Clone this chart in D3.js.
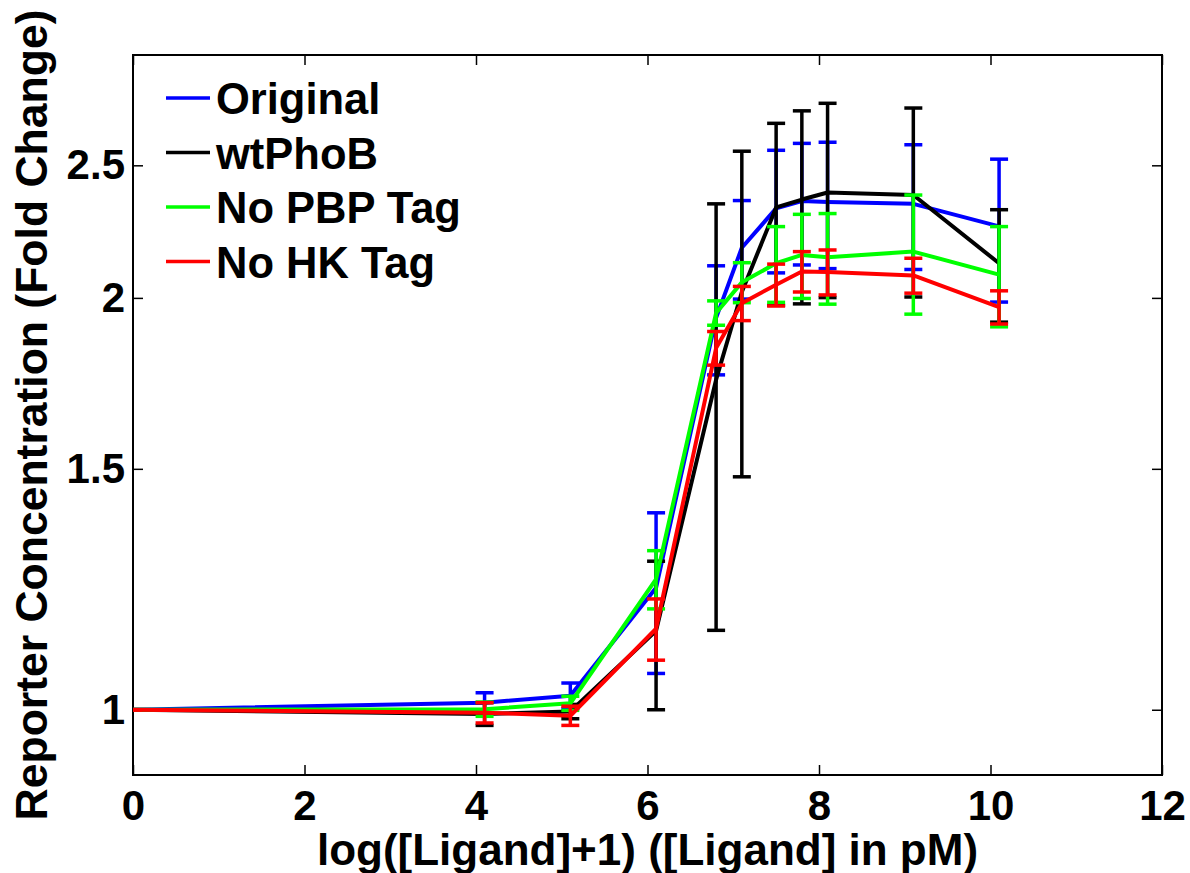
<!DOCTYPE html>
<html>
<head>
<meta charset="utf-8">
<script src="https://cdn.jsdelivr.net/npm/d3@7"></script>
<style>
  body { margin: 0; background: #fff; }
  text { font-family: "Liberation Sans", Arial, sans-serif; font-weight: bold; }
</style>
</head>
<body>
<div id="chart"></div>
<script>
let width = 1190, height = 873;
let margin = {left: 133, right: 28, top: 55, bottom: 98};

// x positions: log([Ligand]+1)
let xs = [0, 4.1, 5.1, 6.1, 6.8, 7.1, 7.5, 7.8, 8.1, 9.1, 10.1];

let seriesNames = ["Original", "wtPhoB", "No PBP Tag", "No HK Tag"];
let seriesColors = ["#0000ff", "#000000", "#00ff00", "#ff0000"];

let originalMean = [1.0, 1.012, 1.024, 1.228, 1.934, 2.176, 2.325, 2.354, 2.35, 2.343, 2.256];
let originalErr  = [0, 0.017, 0.022, 0.165, 0.177, 0.18, 0.239, 0.24, 0.249, 0.245, 0.27];

let wtPhoBMean = [1.0, 0.993, 0.997, 1.142, 1.743, 2.02, 2.329, 2.36, 2.388, 2.378, 2.12];
let wtPhoBErr  = [0, 0.019, 0.012, 0.142, 0.60, 0.54, 0.354, 0.38, 0.387, 0.375, 0.2];

let noPbpMean = [1.0, 1.001, 1.011, 1.246, 1.95, 2.053, 2.12, 2.15, 2.142, 2.162, 2.08];
let noPbpErr  = [0, 0.012, 0.012, 0.061, 0.04, 0.069, 0.135, 0.152, 0.163, 0.216, 0.175];

let noHkMean = [1.0, 0.995, 0.99, 1.146, 1.838, 1.982, 2.045, 2.091, 2.089, 2.077, 1.969];
let noHkErr  = [0, 0.017, 0.016, 0.059, 0.052, 0.057, 0.072, 0.071, 0.079, 0.061, 0.055];

let xTicks = [0, 2, 4, 6, 8, 10, 12];
let yTicks = [1, 1.5, 2, 2.5];
let yTickLabels = ["1", "1.5", "2", "2.5"];

let means = [originalMean, wtPhoBMean, noPbpMean, noHkMean];
let errs = [originalErr, wtPhoBErr, noPbpErr, noHkErr];

let svg = d3.select("#chart").append("svg")
    .attr("width", width)
    .attr("height", height);

let x = d3.scaleLinear().domain([0, 12]).range([margin.left, width - margin.right]);
let y = d3.scaleLog().domain([0.896, 3.01]).range([height - margin.bottom, margin.top]);

let x0 = margin.left, x1 = width - margin.right;
let y0 = height - margin.bottom, y1 = margin.top;

svg.append("clipPath").attr("id", "clip")
  .append("rect")
    .attr("x", x0).attr("y", y1)
    .attr("width", x1 - x0).attr("height", y0 - y1);

// axes with inward ticks
svg.append("g")
    .attr("transform", `translate(0,${y0})`)
    .call(d3.axisBottom(x).tickValues(xTicks).tickSize(-10).tickPadding(15).tickFormat(d3.format("d")))
    .call(g => g.select(".domain").remove())
    .call(g => g.selectAll("text").attr("font-size", 42).attr("fill", "#000"));

svg.append("g")
    .attr("transform", `translate(${x0},0)`)
    .call(d3.axisLeft(y).tickValues(yTicks).tickSize(-10).tickPadding(8).tickFormat((d, i) => yTickLabels[i]))
    .call(g => g.select(".domain").remove())
    .call(g => g.selectAll("text").attr("font-size", 42).attr("fill", "#000"));

// mirrored ticks top / right
svg.append("g")
    .attr("transform", `translate(0,${y1})`)
    .call(d3.axisTop(x).tickValues(xTicks).tickSize(-10).tickFormat(""))
    .call(g => g.select(".domain").remove());

svg.append("g")
    .attr("transform", `translate(${x1},0)`)
    .call(d3.axisRight(y).tickValues(yTicks).tickSize(-10).tickFormat(""))
    .call(g => g.select(".domain").remove());

svg.selectAll(".tick line").attr("stroke", "#000").attr("stroke-width", 1.5);

// box
svg.append("rect")
    .attr("x", x0).attr("y", y1)
    .attr("width", x1 - x0).attr("height", y0 - y1)
    .attr("fill", "none")
    .attr("stroke", "#000")
    .attr("stroke-width", 2);

// series: line + error bars, drawn in order
let plot = svg.append("g").attr("clip-path", "url(#clip)");
let line = d3.line().x(d => x(d[0])).y(d => y(d[1]));
let capW = 9;

seriesNames.forEach((name, s) => {
  let pts = xs.map((v, i) => [v, means[s][i], errs[s][i]]);
  let g = plot.append("g").attr("stroke", seriesColors[s]).attr("fill", "none");

  g.append("path")
      .attr("d", line(pts))
      .attr("stroke-width", 4)
      .attr("stroke-linejoin", "round");

  pts.forEach(p => {
    let cx = x(p[0]), top = y(p[1] + p[2]), bot = y(p[1] - p[2]);
    g.append("line").attr("x1", cx).attr("x2", cx).attr("y1", top).attr("y2", bot).attr("stroke-width", 3.5);
    g.append("line").attr("x1", cx - capW).attr("x2", cx + capW).attr("y1", top).attr("y2", top).attr("stroke-width", 3.5);
    g.append("line").attr("x1", cx - capW).attr("x2", cx + capW).attr("y1", bot).attr("y2", bot).attr("stroke-width", 3.5);
  });
});

// legend
let legend = svg.append("g");
seriesNames.forEach((name, i) => {
  let ly = 98 + i * 54.5;
  legend.append("line")
      .attr("x1", 166).attr("x2", 210)
      .attr("y1", ly).attr("y2", ly)
      .attr("stroke", seriesColors[i])
      .attr("stroke-width", 3.5);
  legend.append("text")
      .attr("x", 216).attr("y", ly + 16)
      .attr("font-size", 43.5)
      .text(name);
});

// axis labels
svg.append("text")
    .attr("x", (x0 + x1) / 2)
    .attr("y", 865)
    .attr("text-anchor", "middle")
    .attr("font-size", 44)
    .text("log([Ligand]+1) ([Ligand] in pM)");

svg.append("text")
    .attr("transform", `translate(47,${(y0 + y1) / 2}) rotate(-90)`)
    .attr("text-anchor", "middle")
    .attr("font-size", 44.5)
    .text("Reporter Concentration (Fold Change)");
</script>
</body>
</html>
